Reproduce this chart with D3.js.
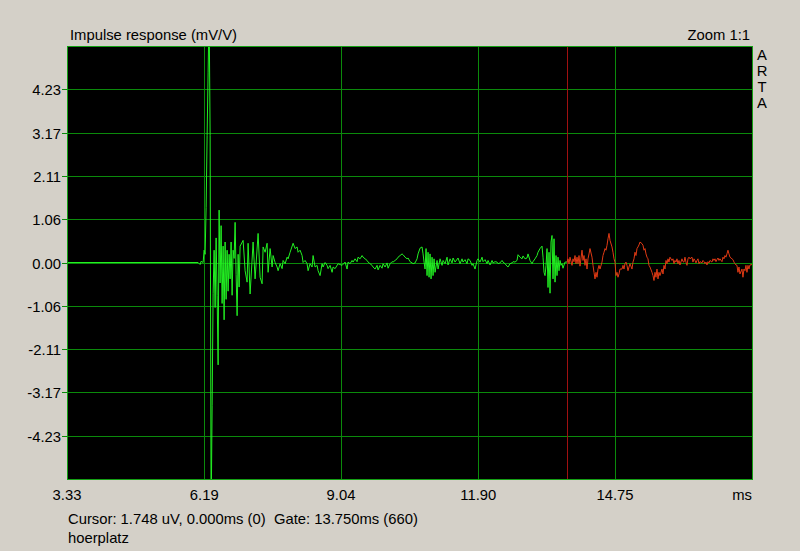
<!DOCTYPE html>
<html>
<head>
<meta charset="utf-8">
<script src="https://cdn.jsdelivr.net/npm/d3@7"></script>
<style>
	body { margin: 0; background: #d4d0c8; }
	svg { display: block; }
	text { font-family: "Liberation Sans", Arial, sans-serif; font-size: 14.8px; fill: #000; }
</style>
</head>
<body>
<svg id="chart" width="800" height="551"></svg>
<script>
// axis labels as printed
var xTickLabels = ["3.33", "6.19", "9.04", "11.90", "14.75"];
var yTickLabels = ["4.23", "3.17", "2.11", "1.06", "0.00", "-1.06", "-2.11", "-3.17", "-4.23"];
var title = "Impulse response (mV/V)";
var zoomText = "Zoom 1:1";
var cursorText = "Cursor: 1.748 uV, 0.000ms (0)  Gate: 13.750ms (660)";
var nameText = "hoerplatz";
var sampleRate = 48; // samples per ms
var gateSample = 660;
// [sample no, mV/V]
var wave = [
	[160,0],[291,0],[293,-0.05],[294,0.03],[296,0],[297,0.3],[298,0.2],[299,1.35],[300,3.1],[301,4.65],
	[302,6.2],[303,3.1],[304,-6.2],[305,-3.5],[306,-0.75],[307,0.3],[308,-1.1],[309,0.6],[310,-0.8],[311,-2.5],
	[312,1.28],[313,-0.5],[314,0.9],[315,-1.0],[316,0.4],[317,-1.4],[318,0.5],[319,-0.9],[320,0.3],[321,-0.7],
	[322,0.2],[323,-0.4],[324,0.5],[325,-0.8],[326,0.3],[327,0.1],[328,0.98],[329,-0.3],[330,-1.3],[331,0.2],
	[332,-0.6],[333,0.4],[336,0.54],[338,-0.2],[340,-0.48],[341,0.47],[343,-0.77],[346,0.5],[348,-0.4],[351,0.71],
	[353,-0.36],[355,-0.52],[356,0.38],[358,0.25],[360,0.47],[361,-0.24],[363,0.34],[365,-0.11],[366,0.17],[368,0.0],
	[370,-0.11],[371,-0.2],[373,-0.03],[375,-0.15],[376,0.05],[378,-0.03],[380,0.13],[381,0.09],[383,0.25],[386,0.47],
	[388,0.34],[390,0.38],[391,0.25],[393,0.3],[395,0.17],[396,0.0],[398,0.05],[400,-0.03],[401,-0.2],[403,-0.03],
	[405,-0.11],[406,0.17],[408,-0.11],[410,-0.07],[411,-0.2],[413,-0.32],[415,-0.03],[416,-0.11],[418,0.0],[420,-0.07],
	[421,-0.15],[423,-0.07],[425,-0.24],[426,-0.11],[428,-0.15],[431,-0.03],[435,-0.07],[438,0.01],[440,-0.16],[441,0.01],
	[443,-0.03],[445,0.05],[446,0.01],[448,0.09],[450,0.02],[451,0.13],[453,0.09],[455,0.17],[456,0.13],[458,0.09],
	[460,0.05],[461,0.01],[465,-0.07],[466,-0.11],[468,-0.16],[470,-0.07],[471,-0.18],[473,-0.07],[475,-0.14],[476,-0.03],
	[478,-0.11],[480,-0.01],[481,-0.14],[483,-0.03],[485,0.02],[486,0.01],[488,0.05],[490,0.09],[491,0.13],[493,0.17],
	[495,0.21],[496,0.19],[498,0.13],[500,0.09],[501,0.11],[503,0.02],[505,-0.01],[506,-0.03],[508,-0.01],[510,0.09],
	[511,0.21],[513,0.35],[515,0.38],[516,0.21],[517,0.01],[518,-0.16],[519,0.34],[520,-0.32],[521,0.25],[522,-0.36],
	[523,0.21],[524,-0.40],[525,0.13],[526,-0.32],[527,0.09],[528,-0.24],[530,0.05],[531,-0.16],[533,0.09],[535,-0.07],
	[536,0.05],[538,-0.03],[540,0.13],[541,-0.06],[543,0.09],[545,-0.01],[546,0.11],[548,0.01],[551,0.11],[553,-0.03],
	[555,0.09],[556,0.01],[558,0.07],[560,-0.03],[561,0.09],[563,0.05],[565,-0.07],[566,-0.03],[568,-0.16],[570,0.05],
	[571,0.09],[573,0.01],[575,0.13],[576,0.02],[578,0.07],[580,-0.03],[581,0.05],[583,-0.06],[585,0.05],[586,-0.01],
	[588,0.02],[590,0.01],[591,-0.03],[593,-0.01],[595,0.05],[596,0.01],[598,-0.03],[600,-0.09],[601,-0.11],[603,-0.03],
	[605,-0.01],[606,0.02],[608,0.01],[610,0.05],[611,0.19],[613,0.13],[615,0.09],[616,0.16],[618,0.09],[620,0.11],
	[621,0.21],[623,0.05],[625,-0.03],[626,0.02],[628,0.09],[630,0.17],[631,0.25],[633,0.34],[635,0.40],[636,0.13],
	[637,-0.24],[638,-0.32],[639,-0.07],[640,0.34],[641,-0.61],[642,0.25],[643,-0.75],[644,0.50],[645,0.66],[646,-0.40],
	[647,0.58],[648,-0.48],[649,0.17],[650,-0.32],[651,0.13],[652,-0.20],[653,0.05],[654,-0.07],[655,-0.03],[656,-0.14],
	[658,0.01],[660,0.01],[661,0.09],[662,-0.03],[663,0.13],[665,-0.07],[666,0.09],[667,0.02],[668,0.17],[669,-0.03],
	[670,0.13],[671,-0.03],[672,0.17],[673,-0.09],[675,0.30],[676,0.05],[677,0.17],[678,-0.07],[679,0.09],[680,-0.16],
	[681,0.09],[682,0.21],[683,0.34],[685,0.13],[686,-0.07],[687,-0.24],[688,-0.40],[689,-0.24],[690,-0.36],[691,-0.16],
	[692,-0.07],[693,-0.16],[695,0.01],[696,0.17],[697,0.25],[698,0.34],[699,0.30],[700,0.42],[701,0.58],[702,0.71],
	[703,0.54],[705,0.38],[706,0.25],[707,0.09],[708,0.01],[709,-0.32],[710,-0.24],[711,-0.36],[712,-0.28],[713,-0.16],
	[715,-0.16],[716,-0.07],[717,-0.16],[718,-0.03],[719,0.01],[720,-0.07],[721,-0.20],[722,-0.11],[723,-0.03],[725,-0.16],
	[726,0.01],[727,0.09],[728,0.25],[729,0.17],[730,0.34],[731,0.38],[732,0.43],[733,0.50],[735,0.46],[736,0.42],
	[737,0.30],[738,0.34],[739,0.21],[740,0.13],[741,0.09],[742,-0.07],[743,-0.11],[745,-0.24],[746,-0.32],[747,-0.44],
	[748,-0.24],[749,-0.36],[750,-0.16],[751,-0.40],[752,-0.24],[753,-0.32],[755,-0.16],[756,-0.28],[757,-0.07],[758,-0.16],
	[759,0.05],[760,-0.03],[761,0.09],[762,0.01],[763,0.13],[765,0.05],[766,0.09],[767,-0.03],[768,0.05],[769,0.01],
	[770,0.09],[771,-0.03],[772,0.05],[773,-0.06],[775,0.09],[776,0.02],[777,0.01],[778,0.13],[779,0.01],[780,-0.07],
	[781,0.09],[782,0.13],[783,0.09],[785,0.13],[786,0.01],[787,0.09],[788,0.05],[789,-0.01],[790,0.05],[791,0.09],
	[792,-0.03],[793,0.02],[795,-0.01],[796,0.05],[797,0.02],[798,-0.03],[799,0.01],[800,-0.06],[801,0.02],[802,-0.01],
	[803,0.05],[805,0.01],[806,0.09],[807,0.05],[808,0.09],[809,0.02],[810,0.07],[811,0.11],[812,0.05],[813,0.09],
	[815,0.02],[816,0.13],[817,0.09],[818,0.17],[819,0.13],[820,0.21],[821,0.30],[822,0.21],[823,0.13],[825,0.09],
	[826,0.07],[827,0.01],[828,-0.03],[829,-0.06],[830,-0.07],[831,-0.24],[832,-0.11],[833,-0.28],[835,-0.16],[836,-0.36],
	[837,-0.16],[838,-0.20],[839,-0.07],[840,-0.24],[841,-0.07],[842,-0.16],[843,-0.06],[845,-0.05]
];

var drawChart = function(){
	var plotL = 67, plotR = 752, plotT = 46, plotB = 479;
	var xStep = (+xTickLabels[4] - +xTickLabels[0]) / 4;
	var yStep = +yTickLabels[0] / 4;
	var x = d3.scaleLinear().domain([+xTickLabels[0], +xTickLabels[0] + xStep * 5]).range([plotL, plotR]);
	var y = d3.scaleLinear().domain([-yStep * 5, yStep * 5]).range([plotB, plotT]);

	var svg = d3.select("#chart");

	svg.append("defs").append("clipPath")
		.attr("id", "plotclip")
		.append("rect")
		.attr("x", plotL).attr("y", plotT)
		.attr("width", plotR - plotL).attr("height", plotB - plotT);

	// black plot area
	svg.append("rect")
		.attr("x", plotL).attr("y", plotT)
		.attr("width", plotR - plotL).attr("height", plotB - plotT)
		.attr("fill", "#000");

	//horizontal grid with little ticks at the left
	svg.selectAll(".hgrid")
		.data(yTickLabels)
		.enter().append("line")
			.attr("class", "hgrid")
			.attr("x1", plotL - 5)
			.attr("x2", plotR)
			.attr("y1", function(d){ return Math.round(y(+d)) + 0.5; })
			.attr("y2", function(d){ return Math.round(y(+d)) + 0.5; })
			.attr("stroke", "#0b8a0b")
			.attr("stroke-width", 1);

	svg.selectAll(".vgrid")
		.data(xTickLabels.slice(1))
		.enter().append("line")
			.attr("class", "vgrid")
			.attr("y1", plotT)
			.attr("y2", plotB)
			.attr("x1", function(d){ return Math.round(x(+d)) + 0.5; })
			.attr("x2", function(d){ return Math.round(x(+d)) + 0.5; })
			.attr("stroke", "#0b8a0b")
			.attr("stroke-width", 1);

	// gate marker
	var gateX = Math.round(x(gateSample / sampleRate)) + 0.5;
	svg.append("line")
		.attr("x1", gateX).attr("x2", gateX)
		.attr("y1", plotT).attr("y2", plotB)
		.attr("stroke", "#a01010")
		.attr("stroke-width", 1);

	// trace, green up to the gate and red after it
	var line = d3.line()
		.x(function(d){ return x(d[0] / sampleRate); })
		.y(function(d){ return y(d[1]); });

	var inGate = wave.filter(function(d){ return d[0] <= gateSample; });
	var outGate = wave.filter(function(d){ return d[0] >= gateSample; });

	svg.append("path")
		.datum(inGate)
		.attr("d", line)
		.attr("clip-path", "url(#plotclip)")
		.attr("fill", "none")
		.attr("stroke", "#22f022")
		.attr("stroke-width", 1);

	svg.append("path")
		.datum(outGate)
		.attr("d", line)
		.attr("clip-path", "url(#plotclip)")
		.attr("fill", "none")
		.attr("stroke", "#e03a14")
		.attr("stroke-width", 1);

	// frame
	svg.append("rect")
		.attr("x", plotL + 0.5).attr("y", plotT + 0.5)
		.attr("width", plotR - plotL).attr("height", plotB - plotT)
		.attr("fill", "none")
		.attr("stroke", "#14a014")
		.attr("stroke-width", 1);

	// tick labels
	svg.selectAll(".ylab")
		.data(yTickLabels)
		.enter().append("text")
			.attr("class", "ylab")
			.attr("x", 61)
			.attr("y", function(d){ return y(+d) + 6; })
			.attr("text-anchor", "end")
			.text(function(d){ return d; });

	svg.selectAll(".xlab")
		.data(xTickLabels)
		.enter().append("text")
			.attr("class", "xlab")
			.attr("x", function(d){ return x(+d); })
			.attr("y", 500)
			.attr("text-anchor", "middle")
			.text(function(d){ return d; });

	svg.append("text").attr("x", 752).attr("y", 500).attr("text-anchor", "end").text("ms");
	svg.append("text").attr("x", 70).attr("y", 39.5).text(title);
	svg.append("text").attr("x", 750).attr("y", 39.5).attr("text-anchor", "end").text(zoomText);
	svg.append("text").attr("x", 68).attr("y", 524).style("white-space", "pre").text(cursorText);
	svg.append("text").attr("x", 68).attr("y", 543).text(nameText);

	// ARTA stacked down the right side
	svg.selectAll(".arta")
		.data("ARTA".split(""))
		.enter().append("text")
			.attr("class", "arta")
			.attr("x", 762)
			.attr("y", function(d, i){ return 60 + i * 16; })
			.attr("text-anchor", "middle")
			.text(function(d){ return d; });
};
drawChart();
</script>
</body>
</html>
